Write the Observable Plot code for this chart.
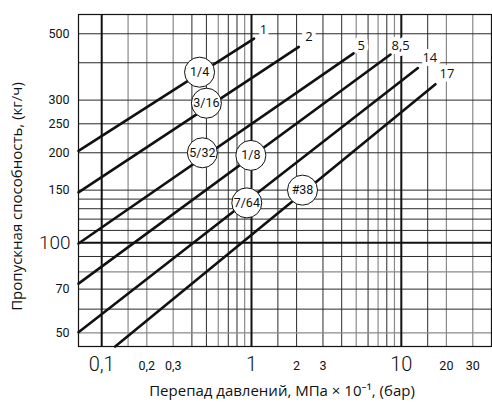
<!DOCTYPE html>
<html><head><meta charset="utf-8">
<script src="https://cdn.jsdelivr.net/npm/d3@7"></script>
<script src="https://cdn.jsdelivr.net/npm/@observablehq/plot@0.6"></script>
<style>body{margin:0;background:#fff} #chart svg{display:block}</style>
</head><body><div id="chart"></div>
<script>
// Orifice sizes and their max pressure drop labels
const orifices = ["1/4", "3/16", "5/32", "1/8", "7/64", "#38"];
const maxLabels = ["1", "2", "5", "8,5", "14", "17"];
// line endpoints (ΔP, flow kg/h)
const startDP = [0.07, 0.07, 0.07, 0.07, 0.07, 0.123];
const startQ  = [203, 147.5, 99.5, 73, 50.2, 45];
const endDP   = [1.04, 2.07, 4.8, 8.47, 12.9, 16.9];
const endQ    = [482, 452, 430, 426, 384, 339];
// orifice circle label positions
const circleDP = [0.45, 0.5, 0.47, 0.99, 0.93, 2.19];
const circleQ  = [372, 293, 200, 196, 136, 150];
// max label positions
const maxDP = [1.2, 2.42, 5.4, 9.9, 15.5, 20.2];
const maxQ  = [517, 490, 457, 457, 414, 367];
// grid
const gridXDark  = [0.4, 0.5, 0.7, 0.8, 1.5, 2, 3, 4, 6, 8, 15];
const gridXLight = [0.15, 0.2, 0.3, 0.6, 0.9, 5, 7, 9, 20, 30];
const gridXMajor = [0.1, 1, 10];
const gridYDark  = [60, 70, 90, 110, 120, 130, 140, 150, 200, 250, 300, 400, 500];
const gridYLight = [50, 80];
const gridYMajor = [100];
// tick labels
const xTicksBig   = [0.1, 1, 10];
const xTicksSmall = [0.2, 0.3, 0.5, 0.7, 2, 3, 5, 7, 20, 30];
const yTicksBig   = [100];
const yTicksSmall = [50, 70, 150, 200, 250, 300, 500];
const xTitle = "Перепад давлений, МПа × 10⁻¹, (бар)";
const yTitle = "Пропускная способность, (кг/ч)";

const lines = orifices.flatMap((o, i) => [
  {o, dp: startDP[i], q: startQ[i]},
  {o, dp: endDP[i], q: endQ[i]}
]);
const circles = orifices.map((o, i) => ({o, dp: circleDP[i], q: circleQ[i]}));
const maxes = maxLabels.map((t, i) => ({t, dp: maxDP[i], q: maxQ[i]}));
const fmt = d => String(d).replace(".", ",");
const tickFont = "Roboto, 'Liberation Sans', sans-serif";
const human = "'Open Sans', 'Noto Sans', sans-serif";

const chart = Plot.plot({
  width: 492, height: 403,
  marginLeft: 78, marginRight: 1, marginTop: 14, marginBottom: 57,
  x: {type: "log", domain: [0.07, 40]},
  y: {type: "log", domain: [45, 580]},
  style: {fontFamily: tickFont, background: "#fff", color: "#111"},
  marks: [
    Plot.ruleX(gridXLight, {stroke: "#8a8a8a", strokeWidth: 1.2}),
    Plot.ruleX(gridXDark, {stroke: "#2a2a2a", strokeWidth: 1}),
    Plot.ruleY(gridYLight, {stroke: "#8a8a8a", strokeWidth: 1.2}),
    Plot.ruleY(gridYDark, {stroke: "#2a2a2a", strokeWidth: 1}),
    Plot.ruleX(gridXMajor, {stroke: "#111", strokeWidth: 2}),
    Plot.ruleY(gridYMajor, {stroke: "#111", strokeWidth: 2}),
    Plot.frame({stroke: "#111", strokeWidth: 1.2}),
    Plot.line(lines, {x: "dp", y: "q", z: "o", stroke: "#111", strokeWidth: 2.6}),
    Plot.text(maxes, {x: "dp", y: "q", text: "t", fill: "#111", stroke: "white", strokeWidth: 8, fontSize: 13, fontFamily: human}),
    Plot.dot(circles, {x: "dp", y: "q", r: 15, fill: "white", stroke: "#111", strokeWidth: 1}),
    Plot.text(circles, {x: "dp", y: "q", text: "o", fill: "#111", fontSize: 12.5, fontFamily: tickFont}),
    Plot.axisX({ticks: xTicksBig, tickFormat: fmt, tickSize: 0, tickPadding: 10, fontSize: 20, fontWeight: 300, label: null}),
    Plot.axisX({ticks: xTicksSmall, tickFormat: fmt, tickSize: 0, tickPadding: 15, fontSize: 12.5, label: null}),
    Plot.axisY({ticks: yTicksBig, tickFormat: fmt, tickSize: 0, tickPadding: 8, fontSize: 19, fontWeight: 300, label: null}),
    Plot.axisY({ticks: yTicksSmall, tickFormat: fmt, tickSize: 0, tickPadding: 9, fontSize: 12.5, label: null}),
    Plot.text([xTitle], {frameAnchor: "bottom", dy: 49, dx: -3, fontSize: 15, fontFamily: human, fill: "#111"}),
    Plot.text([yTitle], {frameAnchor: "left", textAnchor: "middle", rotate: -90, dx: -61, dy: 16, fontSize: 15, fontFamily: human, fill: "#111"})
  ]
});
document.getElementById("chart").appendChild(chart);
</script>
</body></html>
